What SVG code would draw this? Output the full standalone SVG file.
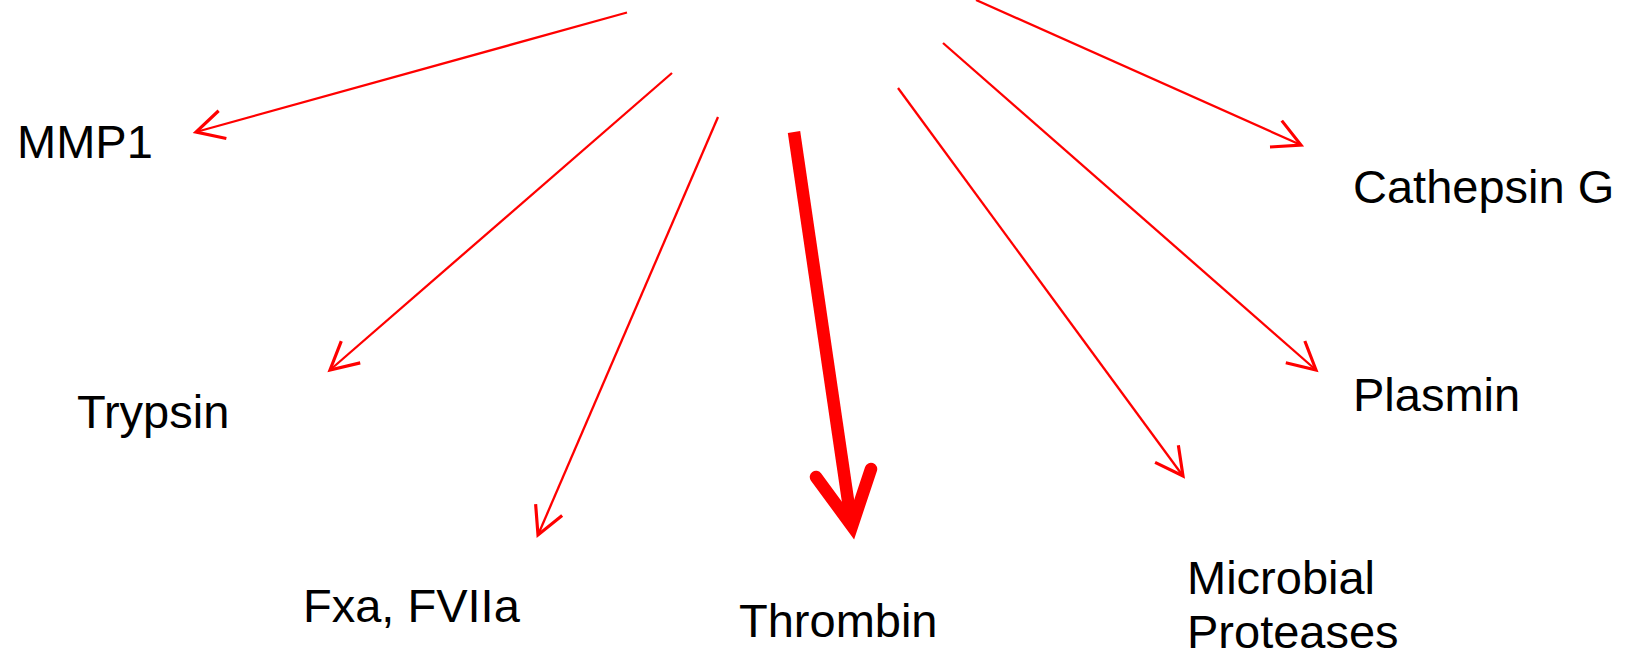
<svg xmlns="http://www.w3.org/2000/svg" width="1634" height="658" viewBox="0 0 1634 658">
<style>
.lbl{font-family:"Liberation Sans",Arial,sans-serif;font-size:47px;fill:#000}
.c{stroke:#ff0000;stroke-width:2.3;fill:none;marker-end:url(#ah)}
</style>
<defs>
<marker id="ah" markerUnits="userSpaceOnUse" markerWidth="44" markerHeight="44" viewBox="-26 -16 32 32" refX="0" refY="0" orient="auto">
<path d="M-20,-10.5 L0,0 L-20,10.5" fill="none" stroke="#ff0000" stroke-width="2.3"/>
</marker>
</defs>
<rect width="1634" height="658" fill="#fff"/>
<g id="connectors">
<line class="c" x1="627" y1="12.5" x2="196" y2="132"/>
<line class="c" x1="672" y1="73" x2="330" y2="370"/>
<line class="c" x1="718" y1="117" x2="538" y2="535"/>
<line class="c" x1="898" y1="88" x2="1183" y2="476"/>
<line class="c" x1="943" y1="43" x2="1316" y2="370"/>
<line class="c" x1="976" y1="0" x2="1301" y2="145"/>
<g id="thrombin-arrow">
<line x1="794" y1="132" x2="851" y2="521" stroke="#ff0000" stroke-width="12.5"/>
<polyline points="816,477 852,526 871,469" fill="none" stroke="#ff0000" stroke-width="12.5" stroke-linecap="round" stroke-linejoin="miter"/>
</g>
</g>
<g id="mmp1"><text class="lbl" x="17" y="158">MMP1</text></g>
<g id="cathepsin"><text class="lbl" x="1353" y="203">Cathepsin G</text></g>
<g id="trypsin"><text class="lbl" x="77" y="428">Trypsin</text></g>
<g id="plasmin"><text class="lbl" x="1353" y="411">Plasmin</text></g>
<g id="fxa"><text class="lbl" x="303" y="622">Fxa, FVIIa</text></g>
<g id="thrombin"><text class="lbl" x="739" y="637">Thrombin</text></g>
<g id="microbial"><text class="lbl" x="1187" y="594">Microbial</text><text class="lbl" x="1187" y="648">Proteases</text></g>
</svg>
